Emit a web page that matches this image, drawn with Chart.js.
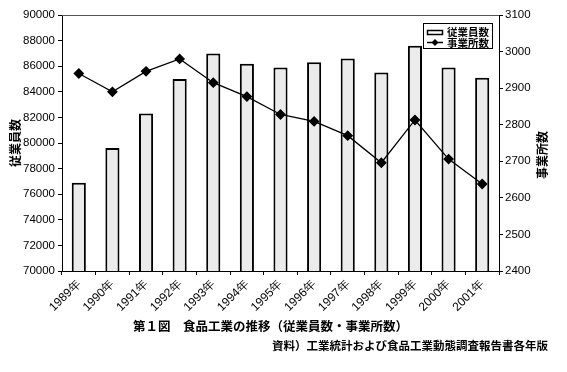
<!DOCTYPE html>
<html>
<head>
<meta charset="utf-8">
<script src="https://cdn.jsdelivr.net/npm/chart.js@4/dist/chart.umd.min.js"></script>
<style>
  html, body { margin: 0; padding: 0; background: #fff; }
  #wrap { width: 567px; height: 372px; position: relative; }
</style>
</head>
<body>
<div id="wrap"><canvas id="foodChart" width="567" height="372"></canvas></div>
<script>
var years = ['1989年','1990年','1991年','1992年','1993年','1994年','1995年','1996年','1997年','1998年','1999年','2000年','2001年'];
var employees = [76900, 79600, 82300, 85000, 87000, 86200, 85900, 86300, 86600, 85500, 87600, 85900, 85100];
var offices = [2940, 2890, 2946, 2980, 2915, 2877, 2828, 2809, 2770, 2696, 2813, 2706, 2638];
var captionMain = '第１図　食品工業の推移（従業員数・事業所数）';
var captionSource = '資料）工業統計および食品工業動態調査報告書各年版';

var jpFont = '"Noto Sans CJK JP", "Noto Sans", sans-serif';
var numFont = '"Liberation Sans", Arial, sans-serif';

// draws legend box, right axis title and captions
var extras = {
  id: 'extras',
  afterDraw: function(chart) {
    var ctx = chart.ctx;
    var area = chart.chartArea;
    ctx.save();

    // frame on top of plot
    ctx.strokeStyle = '#555';
    ctx.lineWidth = 1;
    ctx.beginPath();
    ctx.moveTo(area.left, area.top + 0.5);
    ctx.lineTo(area.right, area.top + 0.5);
    ctx.stroke();

    // legend
    var lx = area.right - 76, ly = area.top + 8;
    ctx.fillStyle = '#fff';
    ctx.fillRect(lx, ly, 70, 26);
    ctx.strokeStyle = '#000';
    ctx.lineWidth = 1;
    ctx.strokeRect(lx + 0.5, ly + 0.5, 69, 25);
    ctx.lineWidth = 1.5;
    ctx.strokeRect(lx + 4.5, ly + 7.5, 15, 4);
    ctx.beginPath();
    ctx.moveTo(lx + 4, ly + 19.5);
    ctx.lineTo(lx + 20, ly + 19.5);
    ctx.stroke();
    ctx.fillStyle = '#000';
    ctx.beginPath();
    ctx.moveTo(lx + 12, ly + 16);
    ctx.lineTo(lx + 15.5, ly + 19.5);
    ctx.lineTo(lx + 12, ly + 23);
    ctx.lineTo(lx + 8.5, ly + 19.5);
    ctx.closePath();
    ctx.fill();
    ctx.font = 'bold 10.5px ' + jpFont;
    ctx.textBaseline = 'middle';
    ctx.textAlign = 'left';
    ctx.fillText(chart.data.datasets[1].label, lx + 24, ly + 9);
    ctx.fillText(chart.data.datasets[0].label, lx + 24, ly + 20);

    // right axis title, reading bottom to top
    ctx.save();
    ctx.translate(542, (area.top + area.bottom) / 2 + 12);
    ctx.rotate(-Math.PI / 2);
    ctx.textAlign = 'center';
    ctx.font = 'bold 12px ' + jpFont;
    ctx.fillText('事業所数', 0, 0);
    ctx.restore();

    // captions
    ctx.textAlign = 'left';
    ctx.font = 'bold 12.5px ' + jpFont;
    ctx.fillText(captionMain, 133, 326);
    ctx.font = 'bold 11.5px ' + jpFont;
    ctx.fillText(captionSource, 272, 346);
    ctx.restore();
  }
};

function plain(v) { return String(v); }

var chart = new Chart(document.getElementById('foodChart'), {
  type: 'bar',
  data: {
    labels: years,
    datasets: [
      {
        type: 'line',
        label: '事業所数',
        data: offices,
        yAxisID: 'y2',
        borderColor: '#000',
        borderWidth: 1.3,
        backgroundColor: '#000',
        pointStyle: 'rectRot',
        pointRadius: 4.5,
        pointHoverRadius: 4.5,
        tension: 0,
        order: 0
      },
      {
        type: 'bar',
        label: '従業員数',
        data: employees,
        yAxisID: 'y',
        backgroundColor: '#ebebeb',
        borderColor: '#000',
        borderWidth: 2,
        borderSkipped: 'bottom',
        barPercentage: 0.42,
        categoryPercentage: 1,
        order: 1
      }
    ]
  },
  options: {
    responsive: false,
    animation: false,
    devicePixelRatio: 1,
    layout: { padding: { left: 8, right: 0, top: 15, bottom: 0 } },
    plugins: {
      legend: { display: false },
      tooltip: { enabled: false }
    },
    scales: {
      x: {
        grid: { display: true, drawOnChartArea: false, tickLength: 4, color: '#000', offset: true },
        border: { color: '#000', width: 1 },
        ticks: {
          color: '#000',
          autoSkip: false,
          font: { family: numFont, size: 12 },
          minRotation: 45,
          maxRotation: 45,
          padding: 2
        },
        afterFit: function(scale) { scale.height = 101; }
      },
      y: {
        position: 'left',
        min: 70000,
        max: 90000,
        ticks: {
          stepSize: 2000,
          color: '#000',
          callback: plain,
          font: { family: numFont, size: 11.5 },
          padding: 3
        },
        grid: { drawOnChartArea: false, tickLength: 4, color: '#000' },
        border: { color: '#000', width: 1 },
        title: {
          display: true,
          text: '従業員数',
          color: '#000',
          font: { family: jpFont, size: 12, weight: 'bold' },
          padding: 0
        },
        afterFit: function(scale) { scale.width = 54; }
      },
      y2: {
        position: 'right',
        min: 2400,
        max: 3100,
        ticks: {
          stepSize: 100,
          color: '#000',
          callback: plain,
          font: { family: numFont, size: 11.5 },
          padding: 2
        },
        grid: { drawOnChartArea: false, tickLength: 4, color: '#000' },
        border: { color: '#000', width: 1 },
        afterFit: function(scale) { scale.width = 68; }
      }
    }
  },
  plugins: [extras]
});
</script>
</body>
</html>
